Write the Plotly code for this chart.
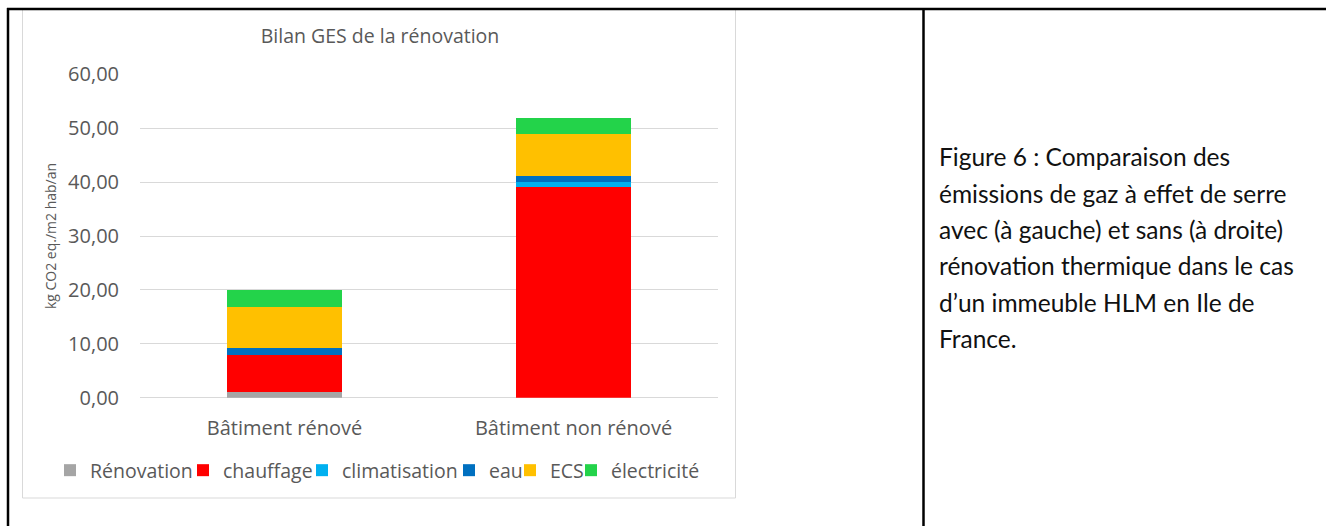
import plotly.graph_objects as go

# Émissions de GES par poste (kg CO2 eq./m2 hab/an)
categories = ["Bâtiment rénové", "Bâtiment non rénové"]
series_names = ["Rénovation", "chauffage", "climatisation", "eau", "ECS", "électricité"]
renovation = [1.0, 0.0]
chauffage = [6.9, 39.0]
climatisation = [0.1, 1.1]
eau = [1.2, 1.05]
ecs = [7.6, 7.8]
electricite = [3.1, 2.9]
series_values = [renovation, chauffage, climatisation, eau, ecs, electricite]
series_colors = ["#a5a5a5", "#ff0000", "#00b0f0", "#0070c0", "#ffc000", "#23d34a"]

y_tick_values = [0, 10, 20, 30, 40, 50, 60]

caption_lines = [
    "Figure 6 : Comparaison des",
    "émissions de gaz à effet de serre",
    "avec (à gauche) et sans (à droite)",
    "rénovation thermique dans le cas",
    "d’un immeuble HLM en Ile de",
    "France.",
]

W, H = 1326, 526
FONT = "Open Sans"
GREY = "#595959"

# Position horizontale (px) du repère de couleur de chaque entrée de légende
legend_marker_px = [70, 203, 322, 469, 530, 591]


def px_x(x):
    return x / W


def px_y(y):
    return 1 - y / H


fig = go.Figure()
legend_ids = ["legend"] + [f"legend{i}" for i in range(2, len(series_names) + 1)]
for name, vals, col, lid in zip(series_names, series_values, series_colors, legend_ids):
    fig.add_trace(go.Bar(
        name=name, x=categories, y=vals, marker_color=col,
        marker_line_width=0, width=0.4, legend=lid,
    ))

fig.update_layout(
    width=W, height=H,
    margin=dict(l=0, r=0, t=0, b=0, pad=0, autoexpand=False),
    paper_bgcolor="white", plot_bgcolor="white",
    barmode="stack",
    separators=", ",
    font=dict(family=FONT, color=GREY, size=20),
    title=dict(
        text="Bilan GES de la rénovation",
        x=px_x(380), y=px_y(36), xanchor="center", yanchor="middle",
        xref="paper", yref="paper", automargin=False,
        font=dict(family=FONT, size=19.5, color=GREY),
    ),
    xaxis=dict(
        domain=[px_x(140), px_x(718)],
        automargin=False,
        showgrid=False, showline=False, zeroline=False,
        tickfont=dict(size=20, color=GREY),
        ticklabelstandoff=16,
    ),
    yaxis=dict(
        domain=[px_y(397.7), px_y(74.3)],
        range=[0, 60],
        automargin=False,
        tickvals=y_tick_values, tickformat=".2f",
        showgrid=True, gridcolor="#d9d9d9", gridwidth=1,
        zeroline=True, zerolinecolor="#d9d9d9", zerolinewidth=1,
        showline=False,
        tickfont=dict(size=20, color=GREY),
        ticklabelstandoff=20,
        title=dict(text="kg CO2 eq./m2 hab/an", font=dict(size=14, color=GREY), standoff=8),
    ),
    showlegend=True,
)

# Une légende par série, alignées sur une ligne sous le graphique
for lid, mx in zip(legend_ids, legend_marker_px):
    fig.update_layout({lid: dict(
        orientation="h", x=px_x(mx - 20), y=px_y(470.5),
        xanchor="left", yanchor="middle",
        bgcolor="rgba(0,0,0,0)", borderwidth=0,
        font=dict(size=19.5, color=GREY),
        itemclick=False, itemdoubleclick=False,
    )})

# Cadre du graphique
fig.add_shape(type="rect", xref="paper", yref="paper",
              x0=px_x(22.5), x1=px_x(735.5), y0=px_y(498), y1=px_y(9.5),
              line=dict(color="#d9d9d9", width=1), fillcolor="rgba(0,0,0,0)", layer="below")

# Bordures du tableau
table_lines = [
    (7, 9, W, 9),
    (8, 8, 8, H),
    (923.5, 8, 923.5, H),
]
for x0, y0, x1, y1 in table_lines:
    fig.add_shape(type="line", xref="paper", yref="paper",
                  x0=px_x(x0), x1=px_x(x1), y0=px_y(y0), y1=px_y(y1),
                  line=dict(color="black", width=2.5))

# Légende de la figure (colonne de droite)
line_y0, line_step = 157, 36.3
for i, line in enumerate(caption_lines):
    fig.add_annotation(
        text=line, xref="paper", yref="paper",
        x=px_x(937), y=px_y(line_y0 + i * line_step),
        xanchor="left", yanchor="middle", showarrow=False,
        font=dict(family="Lato", size=24.5, color="#111111"),
    )

fig.write_html("out.html")
